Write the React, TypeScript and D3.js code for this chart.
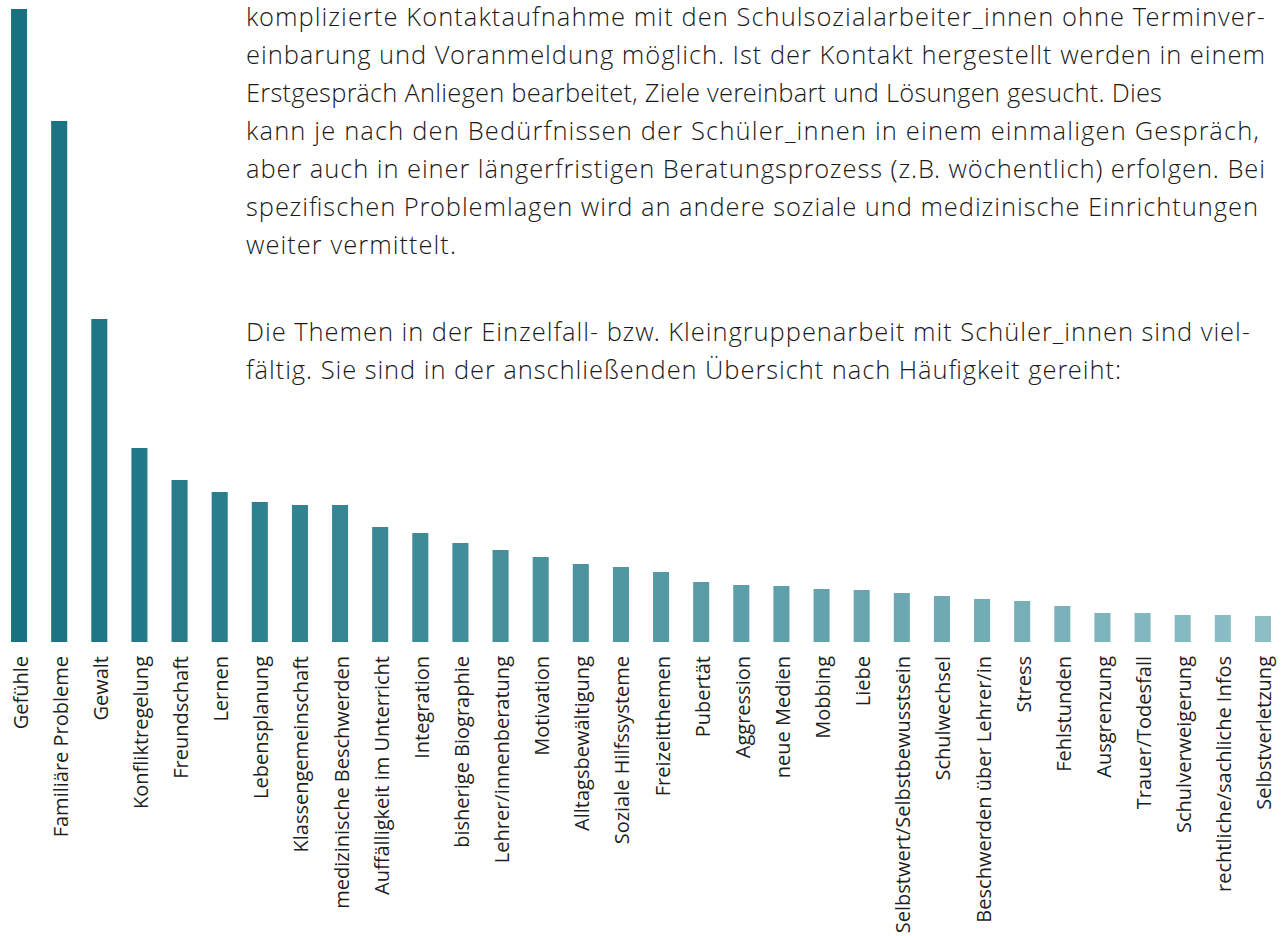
import React from "react";
import * as d3 from "d3";

const categories = [
  "Gefühle", "Familiäre Probleme", "Gewalt", "Konfliktregelung", "Freundschaft", "Lernen",
  "Lebensplanung", "Klassengemeinschaft", "medizinische Beschwerden", "Auffälligkeit im Unterricht",
  "Integration", "bisherige Biographie", "Lehrer/innenberatung", "Motivation", "Alltagsbewältigung",
  "Soziale Hilfssysteme", "Freizeitthemen", "Pubertät", "Aggression", "neue Medien", "Mobbing",
  "Liebe", "Selbstwert/Selbstbewusstsein", "Schulwechsel", "Beschwerden über Lehrer/in", "Stress",
  "Fehlstunden", "Ausgrenzung", "Trauer/Todesfall", "Schulverweigerung", "rechtliche/sachliche Infos",
  "Selbstverletzung",
];

const values = [
  633, 521, 323, 194, 162, 150, 140, 137, 137, 115, 109, 99, 92, 85, 78, 75, 70, 60, 57, 56, 53, 52,
  49, 46, 43, 41, 36, 29, 29, 27, 27, 26,
];

const paragraphLines = [
  "komplizierte Kontaktaufnahme mit den Schulsozialarbeiter_innen ohne Terminver-",
  "einbarung und Voranmeldung möglich. Ist der Kontakt hergestellt werden in einem",
  "Erstgespräch Anliegen bearbeitet, Ziele vereinbart und Lösungen gesucht. Dies",
  "kann je nach den Bedürfnissen der Schüler_innen in einem einmaligen Gespräch,",
  "aber auch in einer längerfristigen Beratungsprozess (z.B. wöchentlich) erfolgen. Bei",
  "spezifischen Problemlagen wird an andere soziale und medizinische Einrichtungen",
  "weiter vermittelt.",
  "Die Themen in der Einzelfall- bzw. Kleingruppenarbeit mit Schüler_innen sind viel-",
  "fältig. Sie sind in der anschließenden Übersicht nach Häufigkeit gereiht:",
];
const lineWidths = [1019, 1019, 916, 1013, 1019, 1012, 210, 1004, 875];
const lineY = [26, 64, 102, 140, 178, 216, 254, 341, 379];

export default function App() {
  const W = 1281;
  const H = 936;
  const x = d3.scaleBand<string>().domain(categories).range([-1, 1283]).paddingInner(0.6).paddingOuter(0.3);
  const y = d3.scaleLinear().domain([0, d3.max(values) as number]).range([642, 9]);
  const color = d3.interpolateRgb("#177280", "#8dbec6");

  return (
    <svg width={W} height={H} style={{ position: "absolute", left: 0, top: 0, background: "#fff" }}>
      <g>
        {categories.map((c, i) => (
          <rect
            key={c}
            x={x(c)}
            y={y(values[i])}
            width={x.bandwidth()}
            height={y(0) - y(values[i])}
            fill={color(i / (categories.length - 1))}
          />
        ))}
      </g>
      <g fontFamily="'Open Sans', sans-serif" fontSize={20} fill="#1e1e1e">
        {categories.map((c) => {
          const cx = (x(c) as number) + x.bandwidth() / 2 + 1.5;
          return (
            <text key={c} transform={`translate(${cx},656) rotate(-90)`} textAnchor="end" dy="0.35em">
              {c}
            </text>
          );
        })}
      </g>
      <g fontFamily="'Open Sans Light', 'Open Sans', sans-serif" fontWeight={300} fontSize={25.5} fill="#1a1a1a">
        {paragraphLines.map((l, i) => (
          <text key={i} x={246} y={lineY[i]} textLength={lineWidths[i]} lengthAdjust="spacing">
            {l}
          </text>
        ))}
      </g>
    </svg>
  );
}
